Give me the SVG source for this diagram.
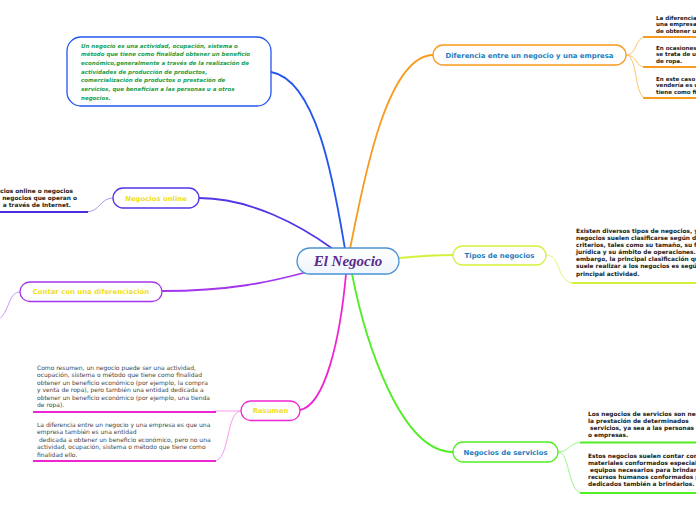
<svg xmlns="http://www.w3.org/2000/svg" width="696" height="520" viewBox="0 0 696 520">
<style>
.lbl{font-family:"DejaVu Sans",Verdana,sans-serif;font-weight:bold;font-size:6.9px;text-anchor:middle}
.blue{fill:#1c7cbf}.yel{fill:#f0e018}
.b{font-family:"DejaVu Sans",Verdana,sans-serif;font-weight:bold;font-size:5.85px;fill:#1a1a1a}
.bs{font-size:5.55px}
.r{font-family:"DejaVu Sans",Verdana,sans-serif;font-size:6px;fill:#444}
.g{font-family:"DejaVu Sans",Verdana,sans-serif;font-weight:bold;font-style:italic;font-size:5.5px;fill:#22a04b}
.node{fill:#fff;stroke-width:1.3}
.main{fill:none;stroke-width:1.8;stroke-linecap:round}
.sub{fill:none;stroke-width:1}
.ul{fill:none;stroke-width:2}
</style>
<rect width="696" height="520" fill="#fff"/>
<defs>
<linearGradient id="cg" x1="0" y1="0" x2="0" y2="1"><stop offset="0" stop-color="#ffffff"/><stop offset="1" stop-color="#eef5fc"/></linearGradient>
</defs>
<g id="connectors">
<path class="main" stroke="#2356ee" d="M345,249 C335,190 318,80 271,72"/>
<path class="main" stroke="#f79a1e" d="M350,249 C362,190 385,56 433,55"/>
<path class="main" stroke="#5533e6" d="M333,249 C300,225 250,198 199,198"/>
<path class="main" stroke="#d6f03a" d="M399,258 C420,256 435,255 453,255"/>
<path class="main" stroke="#a236ee" d="M307,272 C270,282 230,291 162,291"/>
<path class="main" stroke="#f025d2" d="M346,274 C340,340 325,405 300,410"/>
<path class="main" stroke="#50ee22" d="M352,274 C365,340 400,452 453,452"/>
<path class="sub" stroke="#fdc46a" d="M626,55 C638,55 634,37 646,37 M626,55 C638,55 634,67 646,67 M626,55 C638,55 634,98 646,98"/>
<path class="ul" stroke="#f79a1e" d="M643,37 H696 M643,67 H696 M643,98 H696"/>
<path class="sub" stroke="#a898f4" d="M113,198 C100,198 100,212 86,212"/>
<path class="ul" stroke="#4a2be0" d="M0,212 H88"/>
<path class="sub" stroke="#e4f57a" d="M546,255 C562,255 556,283 574,283"/>
<path class="ul" stroke="#d6f03a" d="M572,283 H696"/>
<path class="sub" stroke="#c89af4" d="M20,292 C8,292 10,312 -2,320"/>
<path class="sub" stroke="#f99ae8" d="M241,411 H214 M241,411 C226,411 230,461 214,461"/>
<path class="ul" stroke="#f025d2" d="M33,412 H216 M33,461 H216"/>
<path class="sub" stroke="#9ef58a" d="M558,452 C570,452 568,442.5 582,442.5 M558,452 C570,452 568,493 582,493"/>
<path class="ul" stroke="#50ee22" d="M580,442.5 H696 M580,493 H696"/>
</g>
<g id="center">
<rect x="297" y="248" width="102" height="26" rx="13" fill="url(#cg)" stroke="#4a92d2" stroke-width="1.3"/>
<text x="348" y="266" text-anchor="middle" font-family="'Liberation Serif','DejaVu Serif',serif" font-weight="bold" font-style="italic" font-size="15" fill="#5b2a8a">El Negocio</text>
</g>
<g id="n-definicion">
<rect class="node" x="67" y="37" width="204" height="69" rx="14" stroke="#2356ee"/>
<text class="g" x="81" y="47.7">Un negocio es una actividad, ocupación, sistema o</text>
<text class="g" x="81" y="56.4">método que tiene como finalidad obtener un beneficio</text>
<text class="g" x="81" y="65">económico,generalmente a través de la realización de</text>
<text class="g" x="81" y="73.7">actividades de producción de productos,</text>
<text class="g" x="81" y="82.3">comercialización de productos o prestación de</text>
<text class="g" x="81" y="91">servicios, que benefician a las personas u a otros</text>
<text class="g" x="81" y="99.6">negocios.</text>
</g>
<g id="n-diferencia">
<rect class="node" x="433" y="45" width="193" height="20" rx="10" stroke="#f79a1e"/>
<text class="lbl blue" x="529.5" y="57.5">Diferencia entre un negocio y una empresa</text>
<text class="b bs" x="656" y="19.5">La diferencia entre</text>
<text class="b bs" x="656" y="26">una empresa es</text>
<text class="b bs" x="656" y="32.5">de obtener un</text>
<text class="b bs" x="656" y="49.5">En ocasiones un</text>
<text class="b bs" x="656" y="56">se trata de una</text>
<text class="b bs" x="656" y="62.5">de ropa.</text>
<text class="b bs" x="656" y="80.5">En este caso el</text>
<text class="b bs" x="656" y="87">vendería es una</text>
<text class="b bs" x="656" y="93.5">tiene como fin</text>
</g>
<g id="n-online">
<rect class="node" x="113" y="188" width="86" height="20" rx="10" stroke="#5533e6"/>
<text class="lbl yel" x="156" y="200.5">Negocios online</text>
<text class="b" x="73" y="192.5" text-anchor="end">Los negocios online o negocios</text>
<text class="b" x="77" y="199.5" text-anchor="end">negocios que operan o</text>
<text class="b" x="71" y="206.5" text-anchor="end">a través de Internet.</text>
</g>
<g id="n-tipos">
<rect class="node" x="453" y="246" width="93" height="19" rx="9.5" stroke="#d6f03a"/>
<text class="lbl blue" x="499.5" y="258">Tipos de negocios</text>
<text class="b" x="576" y="233">Existen diversos tipos de negocios, y los</text>
<text class="b" x="576" y="240">negocios suelen clasificarse según diversos</text>
<text class="b" x="576" y="247">criterios, tales como su tamaño, su forma</text>
<text class="b" x="576" y="254">jurídica y su ámbito de operaciones. Sin</text>
<text class="b" x="576" y="261">embargo, la principal clasificación que se</text>
<text class="b" x="576" y="268">suele realizar a los negocios es según su</text>
<text class="b" x="576" y="275.5">principal actividad.</text>
</g>
<g id="n-contar">
<rect class="node" x="20" y="282" width="142" height="19.5" rx="9.7" stroke="#a236ee"/>
<text class="lbl yel" x="91" y="294.3">Contar con una diferenciación</text>
</g>
<g id="n-resumen">
<rect class="node" x="241" y="401" width="59" height="19.5" rx="9.7" stroke="#f025d2"/>
<text class="lbl yel" x="270.5" y="413.3">Resumen</text>
<text class="r" x="37" y="369.5">Como resumen, un negocio puede ser una actividad,</text>
<text class="r" x="37" y="377">ocupación, sistema o método que tiene como finalidad</text>
<text class="r" x="37" y="384.5">obtener un beneficio económico (por ejemplo, la compra</text>
<text class="r" x="37" y="392">y venta de ropa), pero también una entidad dedicada a</text>
<text class="r" x="37" y="399.5">obtener un beneficio económico (por ejemplo, una tienda</text>
<text class="r" x="37" y="407">de ropa).</text>
<text class="r" x="37" y="426.5">La diferencia entre un negocio y una empresa es que una</text>
<text class="r" x="37" y="434">empresa también es una entidad</text>
<text class="r" x="39" y="441.5">dedicada a obtener un beneficio económico, pero no una</text>
<text class="r" x="37" y="449">actividad, ocupación, sistema o método que tiene como</text>
<text class="r" x="37" y="456.5">finalidad ello.</text>
</g>
<g id="n-servicios">
<rect class="node" x="453" y="442" width="105" height="20" rx="10" stroke="#50ee22"/>
<text class="lbl blue" x="505.5" y="454.5">Negocios de servicios</text>
<text class="b" x="588" y="416">Los negocios de servicios son negocios</text>
<text class="b" x="588" y="423">la prestación de determinados</text>
<text class="b" x="590" y="430">servicios, ya sea a las personas</text>
<text class="b" x="588" y="437">o empresas.</text>
<text class="b" x="588" y="458">Estos negocios suelen contar con recursos</text>
<text class="b" x="588" y="465">materiales conformados especialmente</text>
<text class="b" x="590" y="472">equipos necesarios para brindar</text>
<text class="b" x="588" y="479">recursos humanos conformados por</text>
<text class="b" x="588" y="486">dedicados también a brindarlos.</text>
</g>
</svg>
